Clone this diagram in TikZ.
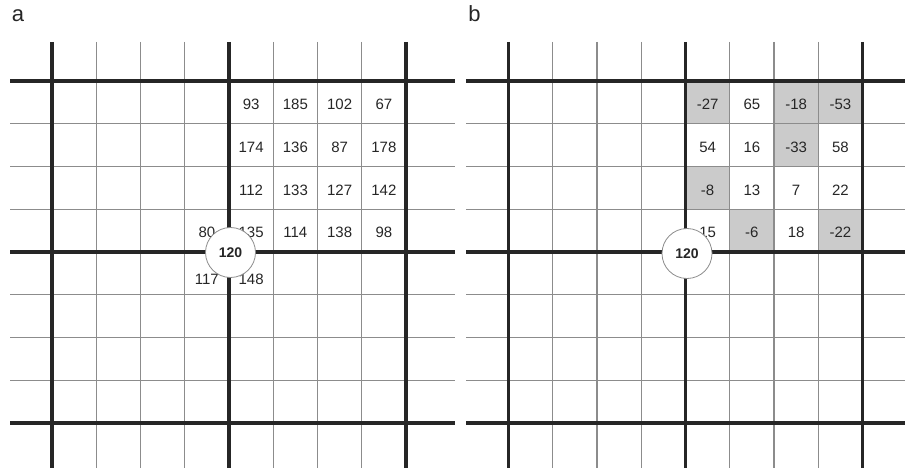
\documentclass[tikz,border=0pt]{standalone}
\usepackage{fontspec}
\setmainfont{Liberation Sans}
\definecolor{cellgray}{HTML}{CBCBCB}
\definecolor{gridgray}{HTML}{8C8C8C}
\definecolor{ink}{HTML}{262626}

\begin{document}
\begin{tikzpicture}[x=1pt,y=-1pt,
  heavyline/.style={line width=3.6pt,draw=ink},
  fineline/.style={line width=1.1pt,draw=gridgray},
  num/.style={inner sep=0pt,text=ink,font=\fontsize{15}{17}\selectfont},
  ctr/.style={circle,draw=gridgray,line width=.8pt,fill=white,minimum size=50pt,inner sep=0pt,
    text=ink,font=\fontsize{14}{16}\selectfont\bfseries},
  panel/.style={inner sep=0pt,text=ink,font=\fontsize{22}{24}\selectfont}]
\useasboundingbox (0,0) rectangle (905,473);
% negative differences in panel b
\foreach \c/\r in {0/0,2/0,3/0,2/1,0/2,1/3,3/3}
  \fill[cellgray] ({508.5+(4+\c)*44.25},{81+\r*42.75}) rectangle +(44.25,42.75);
% the two grids
\foreach \ox/\hl/\hr in {52/10/455,508.5/466/905}{
  \foreach \i in {1,2,3,5,6,7} \draw[fineline] ({\ox+\i*44.25},42) -- ({\ox+\i*44.25},468);
  \foreach \j in {1,2,3,5,6,7} \draw[fineline] (\hl,{81+\j*42.75}) -- (\hr,{81+\j*42.75});
  \foreach \i in {0,4,8} \draw[heavyline] ({\ox+\i*44.25},42) -- ({\ox+\i*44.25},468);
  \foreach \j in {0,4,8} \draw[heavyline] (\hl,{81+\j*42.75}) -- (\hr,{81+\j*42.75});
}
\node[panel] (laba) at (18,15.5) {a};
\node[panel] (labb) at (474.5,14) {b};
% grey values (panel a)
\foreach \r/\row in {0/{93,185,102,67},1/{174,136,87,178},2/{112,133,127,142},3/{135,114,138,98}}
  \foreach \v [count=\c from 0] in \row
    \node[num] (a\r\c) at ({52+(4.5+\c)*44.25},{81+(\r+.5)*42.75+2}) {\v};
\node[num] (a3m) at ({52+3.5*44.25},{81+3.5*42.75+2}) {80};
\node[num] (a4m) at ({52+3.5*44.25},279) {117};
\node[num] (a40) at ({52+4.5*44.25},279) {148};
% differences to the centre (panel b)
\foreach \r/\row in {0/{-27,65,-18,-53},1/{54,16,-33,58},2/{-8,13,7,22},3/{15,-6,18,-22}}
  \foreach \v [count=\c from 0] in \row
    \node[num] (b\r\c) at ({508.5+(4.5+\c)*44.25},{81+(\r+.5)*42.75+2}) {\v};
\node[ctr] (ca) at (230.5,252.5) {120};
\node[ctr] (cb) at (687,253.5) {120};
\end{tikzpicture}
\end{document}
